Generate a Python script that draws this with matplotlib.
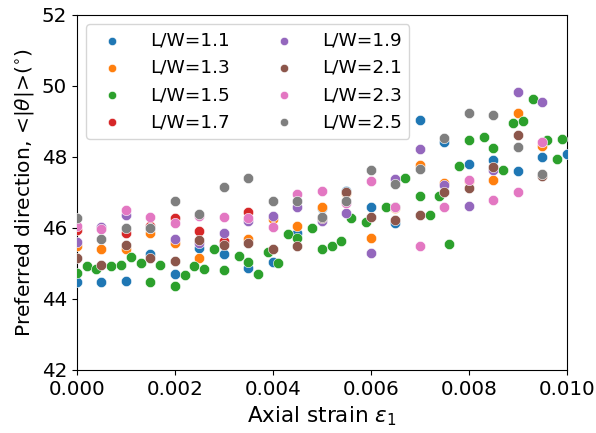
import matplotlib
matplotlib.use("Agg")
import matplotlib.pyplot as plt
import numpy as np

# strain grid for most series
x_grid = [0.0, 0.0005, 0.001, 0.0015, 0.002, 0.0025, 0.003, 0.0035, 0.004, 0.0045,
          0.005, 0.0055, 0.006, 0.0065, 0.007, 0.0075, 0.008, 0.0085, 0.009, 0.0095, 0.01]

lw11 = [44.49, 44.47, 44.51, 45.27, 44.70, 45.45, 45.27, 44.86, 45.03, 45.87,
        46.55, 47.03, 46.60, 46.13, 49.04, 48.41, 47.80, 47.92, 47.61, 48.01, 48.08]
lw13 = [45.50, 45.41, 45.41, 45.85, 45.57, 45.16, 45.60, 45.70, 46.24, 46.06,
        46.58, 46.98, 45.73, 46.55, 47.78, 47.28, 47.32, 47.35, 49.23, 48.31]
lw17 = [45.94, 46.00, 45.85, 46.06, 46.27, 45.92, 45.63, 46.46]
lw19 = [45.61, 46.04, 46.37, 46.00, 45.68, 45.57, 45.87, 46.21, 46.34, 46.60,
        46.21, 46.41, 45.29, 47.38, 48.22, 47.21, 46.62, 47.63, 49.84, 49.56]
lw21 = [45.16, 44.96, 45.52, 45.16, 45.08, 45.65, 45.53, 45.59, 45.41, 45.49,
        46.27, 47.02, 46.30, 46.23, 46.37, 47.00, 47.12, 47.73, 48.62, 47.45]
lw23 = [46.06, 45.97, 46.51, 46.30, 46.15, 46.34, 46.30, 46.27, 46.02, 46.96,
        47.03, 46.70, 47.33, 46.58, 45.49, 46.58, 47.35, 46.79, 47.00, 48.41]
lw25 = [46.28, 45.69, 45.99, 45.99, 46.77, 46.39, 47.16, 47.42, 46.76, 46.77,
        46.32, 46.76, 47.63, 47.23, 47.65, 48.54, 49.25, 49.18, 48.27, 47.52]

# L/W=1.5 has its own, denser strain sampling
x15 = [0.0, 0.0002, 0.0004, 0.0007, 0.0009, 0.0011, 0.0013, 0.0015, 0.0017, 0.002,
       0.0022, 0.0024, 0.0026, 0.0028, 0.003, 0.0033, 0.0035, 0.0037, 0.0039, 0.0041,
       0.0043, 0.0045, 0.0048, 0.005, 0.0052, 0.0054, 0.0056, 0.0059, 0.0063, 0.0065,
       0.0067, 0.007, 0.0072, 0.0074, 0.0076, 0.0078, 0.008, 0.0083, 0.0085, 0.0087,
       0.0089, 0.0091, 0.0093, 0.0096, 0.0098, 0.0099]
lw15 = [44.72, 44.94, 44.85, 44.92, 44.96, 45.19, 45.02, 44.47, 44.97, 44.37,
        44.68, 44.93, 44.84, 45.40, 44.82, 45.21, 45.05, 44.70, 45.33, 45.00,
        45.83, 45.71, 45.99, 45.40, 45.50, 45.63, 46.27, 46.18, 46.60, 46.58,
        47.40, 46.91, 46.37, 46.91, 45.54, 47.75, 48.47, 48.57, 48.24, 47.63,
        48.97, 49.02, 49.63, 48.49, 47.94, 48.51]

labels = ["L/W=1.1", "L/W=1.3", "L/W=1.5", "L/W=1.7", "L/W=1.9", "L/W=2.1", "L/W=2.3", "L/W=2.5"]
series = [(x_grid, lw11), (x_grid, lw13), (x15, lw15), (x_grid, lw17),
          (x_grid, lw19), (x_grid, lw21), (x_grid, lw23), (x_grid, lw25)]
colors = ["#1f77b4", "#ff7f0e", "#2ca02c", "#d62728", "#9467bd", "#8c564b", "#e377c2", "#7f7f7f"]

fig = plt.figure(figsize=(5.96, 4.33), dpi=100)
ax = fig.add_axes([0.129, 0.1455, 0.822, 0.82])

for (xs, ys), lab, c in zip(series, labels, colors):
    n = len(ys)
    ax.scatter(xs[:n], ys, s=55, color=c, label=lab, edgecolors="white", linewidths=0.4, zorder=3)

ax.set_xlim(0, 0.01)
ax.set_ylim(42, 52)
ax.set_xticks([0, 0.002, 0.004, 0.006, 0.008, 0.01])
ax.set_xticklabels(["0.000", "0.002", "0.004", "0.006", "0.008", "0.010"])
ax.set_yticks([42, 44, 46, 48, 50, 52])
ax.tick_params(labelsize=14.3)
ax.set_xlabel(r"Axial strain $\varepsilon_1$", fontsize=15.5)
ax.set_ylabel(r"Preferred direction, <|$\theta$|>($^{\circ}$)", fontsize=14.6)

ax.legend(loc="upper left", ncol=2, fontsize=13.3, markerscale=0.8,
          handletextpad=1.05, columnspacing=1.95, borderaxespad=0.5, framealpha=0.8)

fig.savefig("out.png", dpi=100)
